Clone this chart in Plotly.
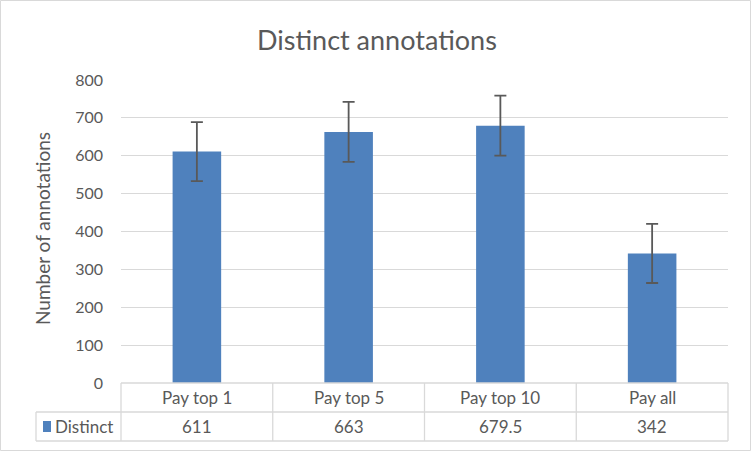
import plotly.graph_objects as go

categories = ["Pay top 1", "Pay top 5", "Pay top 10", "Pay all"]
values = [611, 663, 679.5, 342]
value_labels = ["611", "663", "679.5", "342"]
errors = [78, 79, 79, 78]
series_name = "Distinct"
y_ticks = [0, 100, 200, 300, 400, 500, 600, 700, 800]

W, H = 752, 452
L, R, T, B = 121, 24, 80, 69
PW, PH = W - L - R, H - T - B
FONT = "Lato, sans-serif"
GRAY = "#595959"
LINE = "#d9d9d9"
BLUE = "#4f81bd"


def px(x):
    return (x - L) / PW


def py(y):
    return (H - B - y) / PH


fig = go.Figure()
fig.add_trace(go.Bar(
    x=categories, y=values, marker=dict(color=BLUE, line=dict(width=0)),
    error_y=dict(type="data", array=errors, visible=True, color=GRAY, thickness=1.8, width=6),
    showlegend=False,
))

shapes = []


def hline(x0, x1, y):
    shapes.append(dict(type="line", xref="paper", yref="paper", x0=px(x0), x1=px(x1),
                       y0=py(y), y1=py(y), line=dict(color=LINE, width=1.3)))


def vline(x, y0, y1):
    shapes.append(dict(type="line", xref="paper", yref="paper", x0=px(x), x1=px(x),
                       y0=py(y0), y1=py(y1), line=dict(color=LINE, width=1.3)))


# data table grid
hline(121, 728, 383)
hline(36, 728, 412)
hline(36, 728, 441)
n = len(categories)
for i in range(n + 1):
    vline(121 + i * PW / n, 383, 441)
vline(36, 412, 441)
# legend key
shapes.append(dict(type="rect", xref="paper", yref="paper", x0=px(43), x1=px(51),
                   y0=py(421), y1=py(432), fillcolor=BLUE, line=dict(width=0)))
# outer chart border
shapes.append(dict(type="rect", xref="paper", yref="paper", x0=px(0.5), x1=px(750.5),
                   y0=py(0.5), y1=py(450.5), line=dict(color=LINE, width=1)))

annotations = []
for c, v in zip(categories, value_labels):
    annotations.append(dict(x=c, xref="x", y=py(397.5), yref="paper", text=c, showarrow=False,
                            font=dict(family=FONT, size=17, color=GRAY), yanchor="middle"))
    annotations.append(dict(x=c, xref="x", y=py(426.5), yref="paper", text=v, showarrow=False,
                            font=dict(family=FONT, size=17, color=GRAY), yanchor="middle"))
annotations.append(dict(x=px(53), xref="paper", y=py(426.5), yref="paper", text=series_name,
                        showarrow=False, xanchor="left", yanchor="middle",
                        font=dict(family=FONT, size=17, color=GRAY)))
annotations.append(dict(x=px(42), xref="paper", y=py(229), yref="paper", text="Number of annotations",
                        showarrow=False, textangle=-90, xanchor="center", yanchor="middle",
                        font=dict(family=FONT, size=19, color=GRAY)))
annotations.append(dict(x=px(377), xref="paper", y=py(39), yref="paper", text="Distinct annotations",
                        showarrow=False, xanchor="center", yanchor="middle",
                        font=dict(family=FONT, size=27, color=GRAY)))

fig.update_layout(
    width=W, height=H, margin=dict(l=L, r=R, t=T, b=B),
    paper_bgcolor="white", plot_bgcolor="white",
    bargap=0.68,
    xaxis=dict(range=[-0.5, n - 0.5], showticklabels=False, showgrid=False, zeroline=False,
               showline=False, fixedrange=True),
    yaxis=dict(range=[0, 800], tickvals=y_ticks, showgrid=True, gridcolor=LINE, gridwidth=1.3,
               zeroline=False, showline=False, ticks="", ticklabelstandoff=17,
               tickfont=dict(family=FONT, size=16, color=GRAY)),
    shapes=shapes, annotations=annotations,
)

fig.write_html("out.html")
